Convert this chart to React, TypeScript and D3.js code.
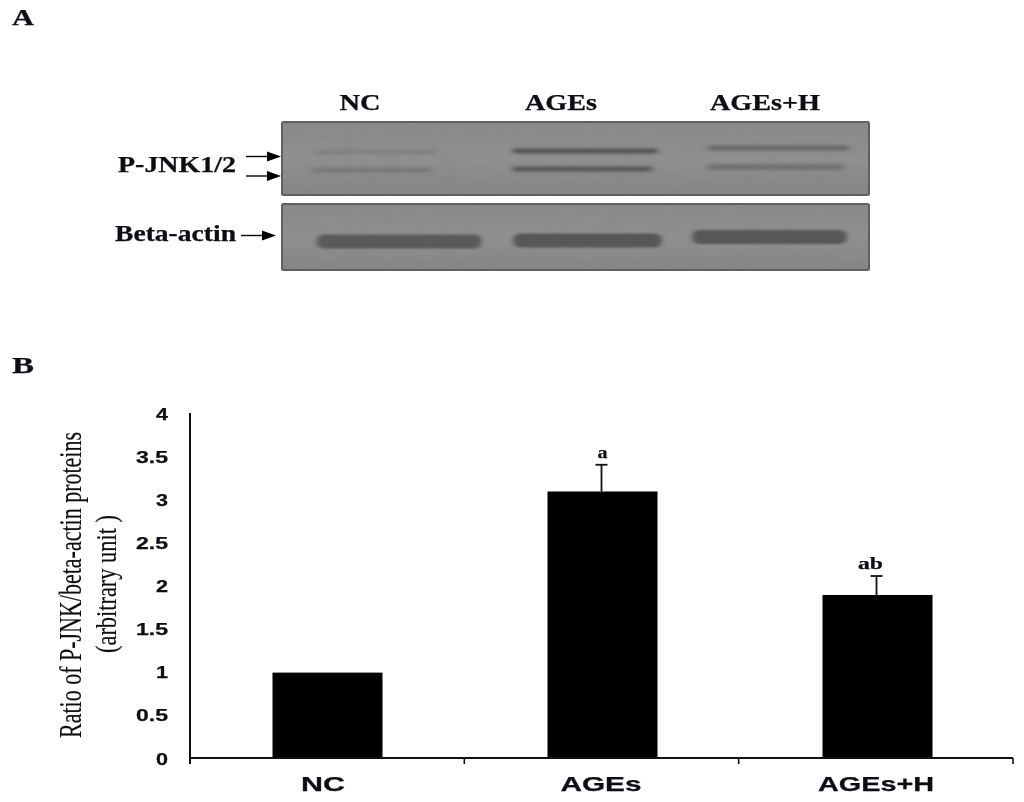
import React from "react";
import * as d3 from "d3";

const categories = ["NC", "AGEs", "AGEs+H"];
const values = [0.99, 3.09, 1.89];
const errors = [0, 0.31, 0.22];
const sigLabels = ["", "a", "ab"];
const yTicks = [0, 0.5, 1, 1.5, 2, 2.5, 3, 3.5, 4];
const blotLanes = ["NC", "AGEs", "AGEs+H"];
const upperBandIntensity = [0.16, 0.85, 0.55];
const lowerBandIntensity = [0.28, 0.8, 0.45];
const actinIntensity = [0.9, 0.95, 0.95];

const serif = "'Liberation Serif', serif";
const sans = "'Liberation Sans', sans-serif";

const x = d3.scaleBand<string>().domain(categories).range([190, 1015]).paddingInner(0.6).paddingOuter(0.3);
const y = d3.scaleLinear().domain([0, 4]).range([758, 413]);
const tickX = d3.scaleLinear().domain([0, 3]).range([190, 1013]);
const laneX = d3.scaleBand<string>().domain(blotLanes).range([322.5, 848.5]).paddingInner(0.164);

function Txt(p: { x: number; y: number; w: number; s: number; t: string; f?: string; anchor?: string }) {
  return (
    <text
      x={p.x}
      y={p.y}
      fontFamily={p.f ?? serif}
      fontWeight="bold"
      fontSize={p.s}
      textAnchor={(p.anchor ?? "middle") as any}
      textLength={p.w}
      lengthAdjust="spacingAndGlyphs"
      fill="#0c0c14"
      stroke="#0c0c14"
      strokeWidth={0.25}
      filter="url(#soft)"
    >
      {p.t}
    </text>
  );
}

function Arrow({ x1, x2, yy }: { x1: number; x2: number; yy: number }) {
  return (
    <g>
      <line x1={x1} x2={x2 - 10} y1={yy} y2={yy} stroke="#000" strokeWidth={1.4} />
      <path d={`M${x2 - 14},${yy - 5}L${x2},${yy}L${x2 - 14},${yy + 5}Z`} fill="#000" />
    </g>
  );
}

function Blot({ top, bottom }: { top: number; bottom: number }) {
  return (
    <g>
      <rect x={282} y={top} width={587} height={bottom - top} fill="url(#blotGrad)" />
      <rect x={282} y={top} width={587} height={bottom - top} fill="#000" filter="url(#grain)" opacity={0.5} />
      <rect x={282} y={top} width={587} height={bottom - top} rx={1.5} fill="none" stroke="#606060" strokeWidth={2} />
    </g>
  );
}

export default function App() {
  return (
    <svg
      width={1024}
      height={802}
      viewBox="0 0 1024 802"
      style={{ position: "absolute", left: 0, top: 0, background: "#fff" }}
    >
      <defs>
        <filter id="soft" x="-10%" y="-30%" width="120%" height="160%">
          <feGaussianBlur stdDeviation="0.3" />
        </filter>
        <filter id="band" x="-10%" y="-300%" width="120%" height="700%">
          <feGaussianBlur stdDeviation="3 1.5" />
        </filter>
        <filter id="actin" x="-10%" y="-100%" width="120%" height="300%">
          <feGaussianBlur stdDeviation="2.5 1.2" />
        </filter>
        <filter id="grain" x="0" y="0" width="100%" height="100%">
          <feTurbulence type="fractalNoise" baseFrequency="0.05 0.12" numOctaves={3} seed={4} />
          <feColorMatrix values="0 0 0 0 0.2  0 0 0 0 0.2  0 0 0 0 0.2  0.6 0 0 0 -0.2" />
        </filter>
        <linearGradient id="blotGrad" x1="0" x2="0" y1="0" y2="1">
          <stop offset="0" stopColor="#8a8a8a" />
          <stop offset="0.5" stopColor="#909090" />
          <stop offset="1" stopColor="#868686" />
        </linearGradient>
      </defs>
      <rect width={1024} height={802} fill="#fff" />

      <Txt x={12} y={25} w={22} s={23} t="A" anchor="start" />
      <Txt x={12} y={373} w={22} s={23} t="B" anchor="start" />

      {/* Panel A */}
      <Txt x={360} y={110} w={41} s={22.5} t="NC" />
      <Txt x={561} y={110} w={72} s={22.5} t="AGEs" />
      <Txt x={765} y={110} w={110} s={22.5} t="AGEs+H" />

      <Blot top={122} bottom={195} />
      <Blot top={204} bottom={270} />

      {blotLanes.map((lane, i) => {
        const lx = laneX(lane)!;
        const upY = [152, 151, 148][i];
        const loY = [170, 169, 167][i];
        const inset = [-10, 5, 14][i];
        const span = [125, 145, 142][i];
        return (
          <g key={lane}>
            <rect x={lx + inset} y={upY - 2.5} width={span} height={5} rx={2.5} fill="#484848" opacity={upperBandIntensity[i]} filter="url(#band)" />
            <rect x={lx + inset} y={loY - 2.5} width={span - 6} height={5} rx={2.5} fill="#484848" opacity={lowerBandIntensity[i]} filter="url(#band)" />
          </g>
        );
      })}
      {blotLanes.map((lane, i) => {
        const lx = laneX(lane)!;
        const yy = [241.5, 240.5, 237][i];
        const left = lx + [-6, 5, -1.5][i];
        const span = [165, 149, 155][i];
        return (
          <rect
            key={lane}
            x={left}
            y={yy - 7}
            width={span}
            height={14}
            rx={7}
            fill="#555555"
            opacity={actinIntensity[i]}
            filter="url(#actin)"
          />
        );
      })}

      <Txt x={118} y={172} w={118} s={22.5} t="P-JNK1/2" anchor="start" />
      <Txt x={115} y={241} w={121} s={22.5} t="Beta-actin" anchor="start" />
      <Arrow x1={246} x2={281} yy={156.5} />
      <Arrow x1={246} x2={281} yy={176} />
      <Arrow x1={241} x2={276} yy={235.5} />

      {/* Panel B */}
      <text
        transform="translate(81,738) rotate(-90)"
        fontFamily={serif}
        fontSize={31}
        textLength={306}
        lengthAdjust="spacingAndGlyphs"
        fill="#111"
        stroke="#111"
        strokeWidth={0.2}
        filter="url(#soft)"
      >
        Ratio of P-JNK/beta-actin proteins
      </text>
      <text
        transform="translate(116,653) rotate(-90)"
        fontFamily={serif}
        fontSize={30}
        textLength={138}
        lengthAdjust="spacingAndGlyphs"
        fill="#111"
        stroke="#111"
        strokeWidth={0.2}
        filter="url(#soft)"
      >
        (arbitrary unit )
      </text>

      {categories.map((c, i) => {
        const bx = x(c)!;
        const bw = x.bandwidth();
        const cx = bx + bw / 2 - 1;
        const top = y(values[i]);
        const errTop = y(values[i] + errors[i]);
        return (
          <g key={c}>
            <rect x={bx} y={top} width={bw} height={y(0) - top} fill="#000" />
            {errors[i] > 0 && (
              <g stroke="#111" strokeWidth={1.8}>
                <line x1={cx} x2={cx} y1={top} y2={errTop} />
                <line x1={cx - 6} x2={cx + 6} y1={errTop} y2={errTop} />
              </g>
            )}
            {sigLabels[i] && (
              <Txt x={cx + (i === 1 ? 1 : -6)} y={errTop - 7} w={i === 1 ? 10 : 25} s={17} t={sigLabels[i]} />
            )}
          </g>
        );
      })}

      {/* Axes */}
      <line x1={190} x2={190} y1={413} y2={764} stroke="#111" strokeWidth={2} />
      <line x1={190} x2={1013} y1={y(0)} y2={y(0)} stroke="#111" strokeWidth={2} />
      {tickX.ticks(3).map((k) => (
        <line key={k} x1={tickX(k)} x2={tickX(k)} y1={y(0)} y2={764} stroke="#111" strokeWidth={1.6} />
      ))}
      {yTicks.map((t) => (
        <Txt
          key={t}
          x={168}
          y={y(t) + 6.5}
          w={Number.isInteger(t) ? 12 : 32}
          s={17}
          t={String(t)}
          f={sans}
          anchor="end"
        />
      ))}
      {categories.map((c, i) => (
        <Txt key={c} x={[323, 601, 876][i]} y={791} w={[44, 81, 116][i]} s={20.5} t={c} f={sans} />
      ))}
    </svg>
  );
}
